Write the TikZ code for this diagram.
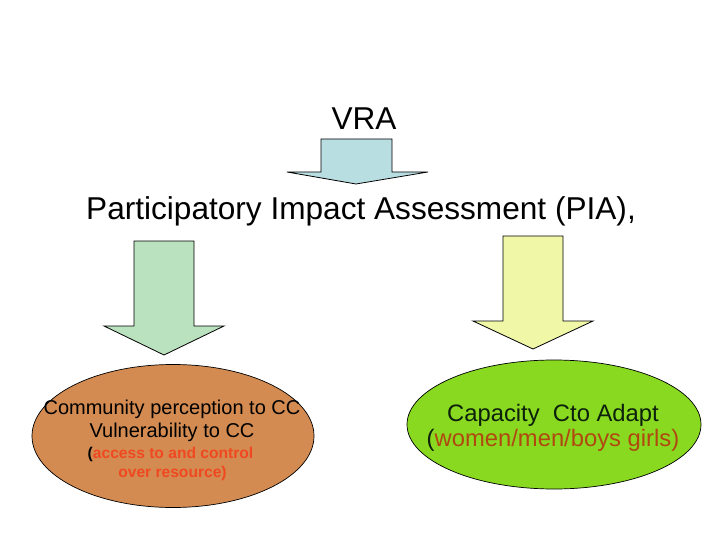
\documentclass[tikz,border=0pt]{standalone}
\usepackage{fontspec}
\setmainfont{Liberation Sans}
\usetikzlibrary{shapes.geometric}
\definecolor{arrblue}{RGB}{184,222,226}
\definecolor{arrgreen}{RGB}{186,226,190}
\definecolor{arryellow}{RGB}{240,248,168}
\definecolor{ellorange}{RGB}{211,139,81}
\definecolor{ellgreen}{RGB}{136,217,32}
\definecolor{txtred}{RGB}{240,72,32}
\definecolor{txtbrown}{RGB}{176,72,16}
\definecolor{txtdark}{RGB}{12,32,12}
\begin{document}
\begin{tikzpicture}[x=1pt,y=-1pt,
  bigarrow/.style={draw=black, line width=0.8pt, line join=miter},
  oval/.style={ellipse, draw=black, line width=0.7pt, inner sep=0pt},
  lbl/.style={anchor=base, inner sep=0pt, text=black},
  bigtxt/.style={lbl, font=\fontsize{31.6}{37}\selectfont},
  midtxt/.style={lbl, font=\fontsize{20}{24}\selectfont},
  smalltxt/.style={lbl, font=\fontsize{15.6}{19}\selectfont\bfseries},
  captxt/.style={lbl, font=\fontsize{23.8}{28}\selectfont}]
\useasboundingbox (0,0) rectangle (720,540);
\fill[white] (0,0) rectangle (720,540);

% title texts
\node[bigtxt] (vra) at (364,130) {VRA};
\node[bigtxt] (pia) at (361,220) {Participatory Impact Assessment (PIA),};

% arrows
\draw[bigarrow, fill=arrblue] (321,139) -- (392,139) -- (392,172) -- (428,172)
  -- (356,184) -- (287,172) -- (321,172) -- cycle;
\draw[bigarrow, fill=arrgreen] (134,241) -- (194,241) -- (194,326) -- (224,326)
  -- (164,355) -- (104,326) -- (134,326) -- cycle;
\draw[bigarrow, fill=arryellow] (503,236) -- (563,236) -- (563,321) -- (593,321)
  -- (533,349) -- (473,321) -- (503,321) -- cycle;

% ellipses
\node[oval, fill=ellorange, minimum width=282pt, minimum height=143pt] (perc) at (173,436) {};
\node[oval, fill=ellgreen, minimum width=294pt, minimum height=129pt] (cap) at (554,424.5) {};

% left ellipse text
\node[midtxt] (l1) at (172,414) {Community perception to CC};
\node[midtxt] (l2) at (172,437) {Vulnerability to CC};
\node[smalltxt] (l3) at (170.5,458) {{\color{black}(}\textcolor{txtred}{access to and control}};
\node[smalltxt, text=txtred] (l4) at (172.5,477) {over resource)};

% right ellipse text
\node[captxt, text=txtdark] (r1) at (553,421) {Capacity\ \ Cto Adapt};
\node[captxt] (r2) at (553,446) {\textcolor{txtdark}{(}\textcolor{txtbrown}{women/men/boys girls)}};
\end{tikzpicture}
\end{document}
